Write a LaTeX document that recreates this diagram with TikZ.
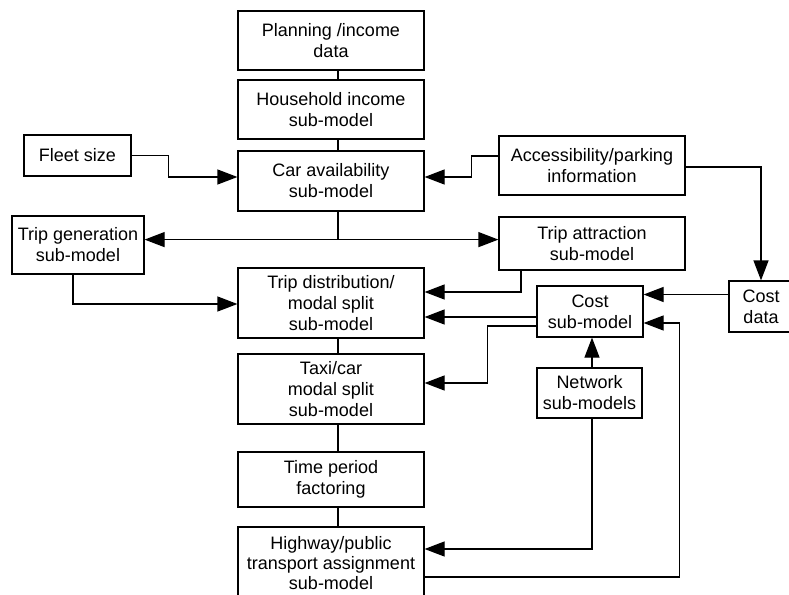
\documentclass[tikz,border=0pt]{standalone}
\usepackage{fontspec}
\setmainfont{Liberation Sans}
\usetikzlibrary{arrows.meta}

\begin{document}
\begin{tikzpicture}[x=1pt,y=-1pt,
		box/.style={draw,line width=1.2pt,align=center,inner sep=0pt,font=\fontsize{18}{21}\selectfont},
		arr/.style={-{Triangle[length=20pt,width=15pt]},line width=1.2pt},
		link/.style={line width=1.2pt}]
	\useasboundingbox (0,0) rectangle (789,594);

	% main column
	\node[box,minimum width=186pt,minimum height=59pt] (plan) at (331,40.5) {Planning /income\\data};
	\node[box,minimum width=186pt,minimum height=59pt] (house) at (331,109.5) {Household income\\sub-model};
	\node[box,minimum width=186pt,minimum height=60pt] (car) at (331,181) {Car availability\\sub-model};
	\node[box,minimum width=186pt,minimum height=70pt] (dist) at (331,303) {Trip distribution/\\modal split\\sub-model};
	\node[box,minimum width=186pt,minimum height=70pt] (taxi) at (331,389) {Taxi/car\\modal split\\sub-model};
	\node[box,minimum width=186pt,minimum height=55pt] (time) at (331,479.5) {Time period\\factoring};
	\node[box,minimum width=186pt,minimum height=73pt,font=\fontsize{18}{20}\selectfont] (high) at (331,563.5) {Highway/public\\transport assignment\\sub-model};

	% side boxes
	\node[box,minimum width=107pt,minimum height=41pt] (fleet) at (77.5,155.5) {Fleet size};
	\node[box,minimum width=132pt,minimum height=58pt] (gen) at (78,245) {Trip generation\\sub-model};
	\node[box,minimum width=186pt,minimum height=59pt] (access) at (592,165.5) {Accessibility/parking\\information};
	\node[box,minimum width=186pt,minimum height=53pt] (attr) at (592,243.5) {Trip attraction\\sub-model};
	\node[box,minimum width=106pt,minimum height=51pt] (cost) at (590,311.5) {Cost\\sub-model};
	\node[box,minimum width=105pt,minimum height=50pt] (net) at (589.5,393) {Network\\sub-models};
	\node[box,minimum width=64pt,minimum height=51pt] (costdata) at (761,306.5) {Cost\\data};

	% column links
	\draw[link] ([xshift=7pt]plan.south) -- ([xshift=7pt]house.north);
	\draw[link] ([xshift=7pt]house.south) -- ([xshift=7pt]car.north);
	\draw[link] ([xshift=7pt]dist.south) -- ([xshift=7pt]taxi.north);
	\draw[link] ([xshift=7pt]taxi.south) -- ([xshift=7pt]time.north);
	\draw[link] ([xshift=7pt]time.south) -- ([xshift=7pt]high.north);

	% arrows
	\draw[arr] (fleet.east) -- ++(37,0) |- ([yshift=4pt]car.west);
	\draw[arr] ([yshift=9.5pt]access.west) -- ++(-27,0) |- ([yshift=4pt]car.east);
	\draw[arr] ([yshift=-1.5pt]access.east) -| (costdata.north);
	\draw[link] ([xshift=7pt]car.south) -- ++(0,28) coordinate (split);
	\draw[arr] (split) -- (split -| gen.east);
	\draw[arr] (split) -- (split -| attr.west);
	\draw[arr] ([xshift=-5pt]gen.south) |- ([yshift=-1pt]dist.west);
	\draw[arr] ([xshift=-71pt]attr.south) |- ([yshift=11pt]dist.east);
	\draw[arr] ([yshift=12pt]costdata.west) -- ([yshift=12pt]costdata.west -| cost.east);
	\draw[arr] ([yshift=-5.5pt]cost.west) -- ([yshift=-5.5pt]cost.west -| dist.east);
	\draw[arr] ([yshift=-14.5pt]cost.west) -- ++(-49,0) |- ([yshift=6pt]taxi.east);
	\draw[arr] ([xshift=2.5pt]net.north) -- ([xshift=2.5pt]net.north |- cost.south);
	\draw[arr] ([xshift=2.5pt]net.south) |- ([yshift=14.5pt]high.east);
	\draw[arr] ([yshift=-13.5pt]high.east) -- ++(255,0) |- ([yshift=-11.5pt]cost.east);
\end{tikzpicture}
\end{document}
